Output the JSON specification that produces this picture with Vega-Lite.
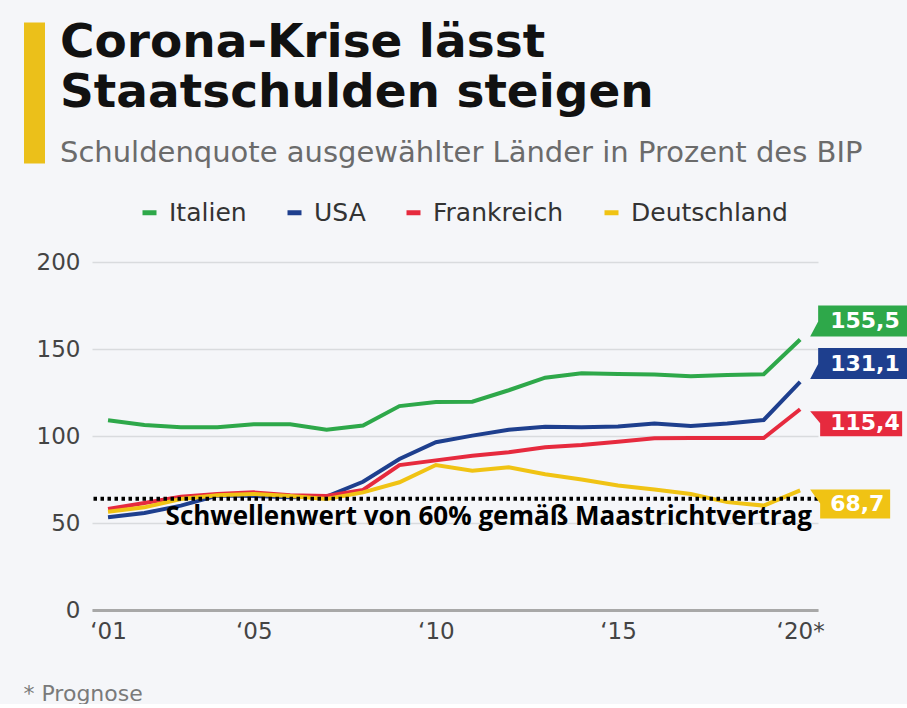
{
  "$schema": "https://vega.github.io/schema/vega-lite/v6.json",
  "background": "#F5F6F9",
  "padding": {"left": 23, "top": 19, "right": 0, "bottom": 0},
  "spacing": 83,
  "config": {
    "view": {"stroke": null},
    "font": "DejaVu Sans",
    "locale": {"number": {"decimal": ",", "thousands": ".", "grouping": [3], "currency": ["", " €"]}}
  },
  "vconcat": [
    {
      "width": 726,
      "height": 141,
      "data": {"values": [{}]},
      "mark": {"type": "rule", "opacity": 0},
      "encoding": {
        "y": {
          "datum": 0,
          "type": "quantitative",
          "scale": {"domain": [0, 1]},
          "axis": {
            "labels": false,
            "ticks": false,
            "grid": false,
            "title": null,
            "domainColor": "#EBC01A",
            "domainWidth": 21,
            "offset": 58
          }
        }
      },
      "title": {
        "text": ["Corona-Krise lässt", "Staatschulden steigen"],
        "subtitle": "Schuldenquote ausgewählter Länder in Prozent des BIP",
        "anchor": "start",
        "frame": "group",
        "dx": -32,
        "offset": -147,
        "font": "DejaVu Sans",
        "fontSize": 47,
        "fontWeight": "bold",
        "color": "#111111",
        "lineHeight": 50,
        "subtitleFont": "DejaVu Sans",
        "subtitleFontSize": 29,
        "subtitleColor": "#6B6B6B",
        "subtitlePadding": 22
      }
    },
    {
      "width": 726,
      "height": 348,
      "data": {
        "values": [
          {"Jahr": 2001, "Land": "Italien", "Wert": 109.0},
          {"Jahr": 2002, "Land": "Italien", "Wert": 106.3},
          {"Jahr": 2003, "Land": "Italien", "Wert": 105.0},
          {"Jahr": 2004, "Land": "Italien", "Wert": 105.0},
          {"Jahr": 2005, "Land": "Italien", "Wert": 106.7},
          {"Jahr": 2006, "Land": "Italien", "Wert": 106.7},
          {"Jahr": 2007, "Land": "Italien", "Wert": 103.6},
          {"Jahr": 2008, "Land": "Italien", "Wert": 106.0},
          {"Jahr": 2009, "Land": "Italien", "Wert": 117.2},
          {"Jahr": 2010, "Land": "Italien", "Wert": 119.5},
          {"Jahr": 2011, "Land": "Italien", "Wert": 119.7},
          {"Jahr": 2012, "Land": "Italien", "Wert": 126.3},
          {"Jahr": 2013, "Land": "Italien", "Wert": 133.5},
          {"Jahr": 2014, "Land": "Italien", "Wert": 136.0},
          {"Jahr": 2015, "Land": "Italien", "Wert": 135.7},
          {"Jahr": 2016, "Land": "Italien", "Wert": 135.3},
          {"Jahr": 2017, "Land": "Italien", "Wert": 134.3},
          {"Jahr": 2018, "Land": "Italien", "Wert": 135.1},
          {"Jahr": 2019, "Land": "Italien", "Wert": 135.5},
          {"Jahr": 2020, "Land": "Italien", "Wert": 155.5},
          {"Jahr": 2001, "Land": "USA", "Wert": 53.3},
          {"Jahr": 2002, "Land": "USA", "Wert": 55.7},
          {"Jahr": 2003, "Land": "USA", "Wert": 60.0},
          {"Jahr": 2004, "Land": "USA", "Wert": 65.8},
          {"Jahr": 2005, "Land": "USA", "Wert": 65.5},
          {"Jahr": 2006, "Land": "USA", "Wert": 64.8},
          {"Jahr": 2007, "Land": "USA", "Wert": 65.2},
          {"Jahr": 2008, "Land": "USA", "Wert": 73.7},
          {"Jahr": 2009, "Land": "USA", "Wert": 86.8},
          {"Jahr": 2010, "Land": "USA", "Wert": 96.4},
          {"Jahr": 2011, "Land": "USA", "Wert": 100.2},
          {"Jahr": 2012, "Land": "USA", "Wert": 103.6},
          {"Jahr": 2013, "Land": "USA", "Wert": 105.3},
          {"Jahr": 2014, "Land": "USA", "Wert": 105.0},
          {"Jahr": 2015, "Land": "USA", "Wert": 105.4},
          {"Jahr": 2016, "Land": "USA", "Wert": 107.2},
          {"Jahr": 2017, "Land": "USA", "Wert": 105.8},
          {"Jahr": 2018, "Land": "USA", "Wert": 107.2},
          {"Jahr": 2019, "Land": "USA", "Wert": 109.2},
          {"Jahr": 2020, "Land": "USA", "Wert": 131.1},
          {"Jahr": 2001, "Land": "Frankreich", "Wert": 58.0},
          {"Jahr": 2002, "Land": "Frankreich", "Wert": 61.5},
          {"Jahr": 2003, "Land": "Frankreich", "Wert": 65.1},
          {"Jahr": 2004, "Land": "Frankreich", "Wert": 66.7},
          {"Jahr": 2005, "Land": "Frankreich", "Wert": 67.6},
          {"Jahr": 2006, "Land": "Frankreich", "Wert": 66.0},
          {"Jahr": 2007, "Land": "Frankreich", "Wert": 65.5},
          {"Jahr": 2008, "Land": "Frankreich", "Wert": 69.0},
          {"Jahr": 2009, "Land": "Frankreich", "Wert": 83.3},
          {"Jahr": 2010, "Land": "Frankreich", "Wert": 86.0},
          {"Jahr": 2011, "Land": "Frankreich", "Wert": 88.7},
          {"Jahr": 2012, "Land": "Frankreich", "Wert": 90.6},
          {"Jahr": 2013, "Land": "Frankreich", "Wert": 93.5},
          {"Jahr": 2014, "Land": "Frankreich", "Wert": 94.8},
          {"Jahr": 2015, "Land": "Frankreich", "Wert": 96.7},
          {"Jahr": 2016, "Land": "Frankreich", "Wert": 98.7},
          {"Jahr": 2017, "Land": "Frankreich", "Wert": 98.8},
          {"Jahr": 2018, "Land": "Frankreich", "Wert": 98.8},
          {"Jahr": 2019, "Land": "Frankreich", "Wert": 98.8},
          {"Jahr": 2020, "Land": "Frankreich", "Wert": 115.4},
          {"Jahr": 2001, "Land": "Deutschland", "Wert": 56.5},
          {"Jahr": 2002, "Land": "Deutschland", "Wert": 59.0},
          {"Jahr": 2003, "Land": "Deutschland", "Wert": 63.8},
          {"Jahr": 2004, "Land": "Deutschland", "Wert": 66.0},
          {"Jahr": 2005, "Land": "Deutschland", "Wert": 66.7},
          {"Jahr": 2006, "Land": "Deutschland", "Wert": 65.5},
          {"Jahr": 2007, "Land": "Deutschland", "Wert": 63.8},
          {"Jahr": 2008, "Land": "Deutschland", "Wert": 67.6},
          {"Jahr": 2009, "Land": "Deutschland", "Wert": 73.4},
          {"Jahr": 2010, "Land": "Deutschland", "Wert": 83.3},
          {"Jahr": 2011, "Land": "Deutschland", "Wert": 80.1},
          {"Jahr": 2012, "Land": "Deutschland", "Wert": 82.0},
          {"Jahr": 2013, "Land": "Deutschland", "Wert": 78.0},
          {"Jahr": 2014, "Land": "Deutschland", "Wert": 75.0},
          {"Jahr": 2015, "Land": "Deutschland", "Wert": 71.5},
          {"Jahr": 2016, "Land": "Deutschland", "Wert": 69.2},
          {"Jahr": 2017, "Land": "Deutschland", "Wert": 66.7},
          {"Jahr": 2018, "Land": "Deutschland", "Wert": 62.0},
          {"Jahr": 2019, "Land": "Deutschland", "Wert": 60.0},
          {"Jahr": 2020, "Land": "Deutschland", "Wert": 68.7}
        ]
      },
      "encoding": {
        "x": {
          "field": "Jahr",
          "type": "quantitative",
          "scale": {"domain": [2000.56, 2020.49], "nice": false, "zero": false},
          "axis": {
            "values": [2001, 2005, 2010, 2015, 2020],
            "labelExpr": "'‘' + substring(toString(datum.value), 2, 4) + (datum.value == 2020 ? '*' : '')",
            "title": "* Prognose",
            "titleAnchor": "start",
            "titleAlign": "left",
            "titleX": -69,
            "titleY": 90,
            "titleBaseline": "alphabetic",
            "titleFont": "DejaVu Sans",
            "titleFontSize": 22,
            "titleFontWeight": "normal",
            "titleColor": "#7A7A7A",
            "domainColor": "#A8A8A8",
            "domainWidth": 3,
            "ticks": false,
            "grid": false,
            "labelFont": "DejaVu Sans",
            "labelFontSize": 23,
            "labelColor": "#444444",
            "labelPadding": 10,
            "labelFlush": false
          }
        },
        "y": {
          "field": "Wert",
          "type": "quantitative",
          "scale": {"domain": [0, 200], "nice": false},
          "axis": {
            "values": [0, 50, 100, 150, 200],
            "title": null,
            "domain": false,
            "ticks": false,
            "labelFont": "DejaVu Sans",
            "labelFontSize": 23,
            "labelColor": "#444444",
            "labelPadding": 12,
            "gridColor": "#D9DBDE",
            "gridWidth": 1.5
          }
        }
      },
      "layer": [
        {
          "mark": {"type": "line", "strokeWidth": 4},
          "encoding": {
            "color": {
              "field": "Land",
              "type": "nominal",
              "scale": {
                "domain": ["Italien", "USA", "Frankreich", "Deutschland"],
                "range": ["#2EA84A", "#1E3F8E", "#E62A3E", "#F0C314"]
              },
              "legend": {
                "title": null,
                "orient": "none",
                "legendX": 45,
                "legendY": 178,
                "direction": "horizontal",
                "symbolType": "stroke",
                "symbolStrokeWidth": 5,
                "symbolSize": 196,
                "labelFont": "DejaVu Sans",
                "labelFontSize": 25,
                "labelColor": "#333333",
                "labelOffset": 7,
                "labelLimit": 300,
                "columnPadding": 30
              }
            }
          }
        },
        {
          "data": {"values": [{"Schwelle": 64}]},
          "mark": {"type": "rule", "strokeDash": [3.5, 3.5], "strokeWidth": 4, "color": "#000000"},
          "encoding": {
            "x": null,
            "y": {"field": "Schwelle", "type": "quantitative"}
          }
        },
        {
          "data": {"values": [{"Schwelle": 64}]},
          "mark": {
            "type": "text",
            "text": "Schwellenwert von 60% gemäß Maastrichtvertrag",
            "font": "Open Sans",
            "fontWeight": "bold",
            "fontSize": 26,
            "align": "right",
            "baseline": "middle",
            "dx": -6,
            "dy": 18,
            "color": "#000000"
          },
          "encoding": {
            "x": {"value": "width"},
            "y": {"field": "Schwelle", "type": "quantitative"}
          }
        },
        {
          "transform": [{"filter": "datum.Jahr == 2020 && (datum.Land == 'Italien' || datum.Land == 'USA')"}],
          "mark": {"type": "point", "filled": true, "size": 4, "opacity": 1, "strokeWidth": 0, "clip": false,
                   "shape": "M10,-3 L18,-18 L18,-34 L107,-34 L107,-3 Z"},
          "encoding": {
            "fill": {
              "field": "Land",
              "type": "nominal",
              "scale": {"domain": ["Italien", "USA"], "range": ["#2EA84A", "#1E3F8E"]},
              "legend": null
            }
          }
        },
        {
          "transform": [{"filter": "datum.Jahr == 2020 && datum.Land == 'Frankreich'"}],
          "mark": {"type": "point", "filled": true, "size": 4, "opacity": 1, "strokeWidth": 0, "clip": false,
                   "color": "#E62A3E",
                   "shape": "M10,2 L102,2 L102,27 L20,27 L20,14 Z"},
          "encoding": {}
        },
        {
          "transform": [{"filter": "datum.Jahr == 2020 && datum.Land == 'Deutschland'"}],
          "mark": {"type": "point", "filled": true, "size": 4, "opacity": 1, "strokeWidth": 0, "clip": false,
                   "color": "#F0C314",
                   "shape": "M10,-1 L90,-1 L90,28 L20,28 L20,13 Z"},
          "encoding": {}
        },
        {
          "transform": [{"filter": "datum.Jahr == 2020 && (datum.Land == 'Italien' || datum.Land == 'USA')"}],
          "mark": {"type": "text", "align": "left", "baseline": "middle", "dx": 30, "dy": -18, "font": "DejaVu Sans", "fontWeight": "bold", "fontSize": 22, "color": "#FFFFFF"},
          "encoding": {
            "text": {"field": "Wert", "type": "quantitative", "format": ".1f"}
          }
        },
        {
          "transform": [{"filter": "datum.Jahr == 2020 && (datum.Land == 'Frankreich' || datum.Land == 'Deutschland')"}],
          "mark": {"type": "text", "align": "left", "baseline": "middle", "dx": 30, "dy": 14, "font": "DejaVu Sans", "fontWeight": "bold", "fontSize": 22, "color": "#FFFFFF"},
          "encoding": {
            "text": {"field": "Wert", "type": "quantitative", "format": ".1f"}
          }
        }
      ]
    }
  ]
}
